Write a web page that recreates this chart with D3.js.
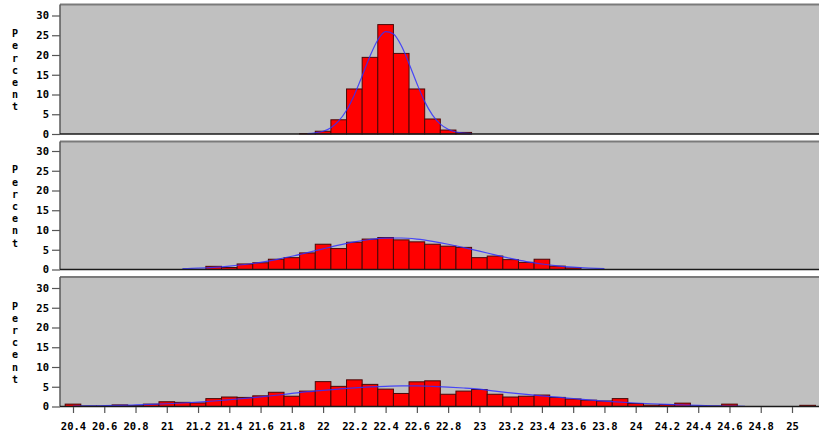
<!DOCTYPE html>
<html>
<head>
<meta charset="utf-8">
<script src="https://cdn.jsdelivr.net/npm/d3@7"></script>
<style>
  html, body { margin: 0; padding: 0; background: #ffffff; }
  svg { display: block; }
  text { font-family: "DejaVu Sans Mono", "Liberation Mono", monospace; font-weight: bold; fill: #000; }
</style>
</head>
<body>
<svg id="chart" width="819" height="439"></svg>
<script>
// Histogram bin midpoints (bin width 0.1) and percentages for each of the three panels
const binWidth = 0.1;

const panel1Bins = [21.9, 22.0, 22.1, 22.2, 22.3, 22.4, 22.5, 22.6, 22.7, 22.8, 22.9];
const panel1Pct  = [0.1, 0.7, 3.6, 11.4, 19.4, 27.7, 20.4, 11.4, 3.8, 1.0, 0.4];

const panel2Bins = [21.3, 21.4, 21.5, 21.6, 21.7, 21.8, 21.9, 22.0, 22.1, 22.2, 22.3, 22.4,
                    22.5, 22.6, 22.7, 22.8, 22.9, 23.0, 23.1, 23.2, 23.3, 23.4, 23.5, 23.6];
const panel2Pct  = [0.8, 0.5, 1.4, 1.7, 2.6, 3.0, 4.2, 6.4, 5.3, 6.9, 7.7, 8.1,
                    7.5, 7.0, 6.4, 5.9, 5.6, 3.0, 3.4, 2.5, 1.8, 2.6, 0.85, 0.4];

const panel3Bins = [20.4, 20.5, 20.6, 20.7, 20.8, 20.9, 21.0, 21.1, 21.2, 21.3, 21.4, 21.5,
                    21.6, 21.7, 21.8, 21.9, 22.0, 22.1, 22.2, 22.3, 22.4, 22.5, 22.6, 22.7,
                    22.8, 22.9, 23.0, 23.1, 23.2, 23.3, 23.4, 23.5, 23.6, 23.7, 23.8, 23.9,
                    24.0, 24.1, 24.2, 24.3, 24.4, 24.5, 24.6, 25.1];
const panel3Pct  = [0.6, 0.1, 0.1, 0.4, 0.2, 0.6, 1.2, 1.05, 0.9, 2.0, 2.4, 2.3,
                    2.7, 3.6, 2.6, 3.9, 6.3, 5.1, 6.75, 5.6, 4.4, 3.3, 6.25, 6.5,
                    3.1, 3.9, 4.3, 3.1, 2.4, 2.6, 2.9, 2.3, 1.9, 1.6, 1.4, 2.0,
                    0.75, 0.35, 0.45, 0.85, 0.1, 0.1, 0.6, 0.3];

// Fitted normal density curves (percent per bin)
const curve1X = [21.90, 21.95, 22.00, 22.05, 22.10, 22.15, 22.20, 22.25, 22.30, 22.35, 22.40,
                 22.45, 22.50, 22.55, 22.60, 22.65, 22.70, 22.75, 22.80, 22.85, 22.90, 22.95];
const curve1Y = [0.1, 0.3, 0.7, 1.6, 3.3, 6.0, 9.9, 14.7, 19.7, 23.8, 25.9,
                 25.3, 22.4, 17.8, 12.8, 8.2, 4.8, 2.5, 1.2, 0.5, 0.2, 0.07];

const curve2X = [21.1, 21.2, 21.3, 21.4, 21.5, 21.6, 21.7, 21.8, 21.9, 22.0, 22.1, 22.2, 22.3, 22.4,
                 22.5, 22.6, 22.7, 22.8, 22.9, 23.0, 23.1, 23.2, 23.3, 23.4, 23.5, 23.6, 23.7, 23.8];
const curve2Y = [0.2, 0.33, 0.54, 0.85, 1.27, 1.82, 2.52, 3.35, 4.27, 5.24, 6.17, 6.99, 7.6, 7.94,
                 7.97, 7.69, 7.13, 6.4, 5.55, 4.65, 3.7, 2.8, 2.0, 1.4, 0.92, 0.59, 0.37, 0.22];

const curve3X = [20.4, 20.5, 20.6, 20.7, 20.8, 20.9, 21.0, 21.1, 21.2, 21.3, 21.4, 21.5, 21.6, 21.7,
                 21.8, 21.9, 22.0, 22.1, 22.2, 22.3, 22.4, 22.5, 22.6, 22.7, 22.8, 22.9, 23.0, 23.1,
                 23.2, 23.3, 23.4, 23.5, 23.6, 23.7, 23.8, 23.9, 24.0, 24.1, 24.2, 24.3, 24.4, 24.5,
                 24.6, 24.7];
const curve3Y = [0.1, 0.15, 0.21, 0.29, 0.39, 0.52, 0.69, 0.89, 1.12, 1.39, 1.71, 2.05, 2.43, 2.85,
                 3.3, 3.75, 4.1, 4.42, 4.72, 4.95, 5.12, 5.2, 5.2, 5.1, 4.93, 4.69, 4.38, 3.9,
                 3.45, 3.05, 2.7, 2.35, 2.02, 1.68, 1.38, 1.12, 0.89, 0.69, 0.52, 0.39, 0.27, 0.18,
                 0.1, 0.04];

// Axis tick labels
const xTicks = [20.4, 20.6, 20.8, 21, 21.2, 21.4, 21.6, 21.8, 22, 22.2, 22.4, 22.6,
                22.8, 23, 23.2, 23.4, 23.6, 23.8, 24, 24.2, 24.4, 24.6, 24.8, 25];
const yTicks = [0, 5, 10, 15, 20, 25, 30];
const yLabel = "Percent";

const panels = [
  { bins: panel1Bins, pct: panel1Pct, cx: curve1X, cy: curve1Y, top: 4.5,   base: 134 },
  { bins: panel2Bins, pct: panel2Pct, cx: curve2X, cy: curve2Y, top: 141.5, base: 269.5 },
  { bins: panel3Bins, pct: panel3Pct, cx: curve3X, cy: curve3Y, top: 277,   base: 406.5 }
];

const svg = d3.select("#chart");
const plotLeft = 60, plotRight = 830;

const x = d3.scaleLinear().domain([20.4, 25]).range([73, 792]);

panels.forEach((p, i) => {
  const y = d3.scaleLinear().domain([0, 30]).range([p.base, p.base - 118.5]);
  const g = svg.append("g");

  // plot background
  g.append("rect")
    .attr("x", plotLeft).attr("y", p.top)
    .attr("width", plotRight - plotLeft).attr("height", p.base - p.top)
    .attr("fill", "#c0c0c0");

  // frame: top and left edges
  g.append("line")
    .attr("x1", plotLeft).attr("x2", plotRight)
    .attr("y1", p.top).attr("y2", p.top)
    .attr("stroke", "#7a7a7a").attr("stroke-width", 2);
  g.append("line")
    .attr("x1", plotLeft).attr("x2", plotLeft)
    .attr("y1", p.top).attr("y2", p.base)
    .attr("stroke", "#5a5a5a").attr("stroke-width", 1.5);

  // histogram bars
  const bars = p.bins.map((b, k) => ({ mid: b, v: p.pct[k] }));
  g.append("g").selectAll("rect").data(bars).join("rect")
    .attr("x", d => x(d.mid - binWidth / 2))
    .attr("width", d => x(d.mid + binWidth / 2) - x(d.mid - binWidth / 2))
    .attr("y", d => y(d.v))
    .attr("height", d => y(0) - y(d.v))
    .attr("fill", "#ff0000")
    .attr("stroke", "#4a0808")
    .attr("stroke-width", 1);

  // fitted normal curve
  const pts = p.cx.map((v, k) => [v, p.cy[k]]);
  g.append("path")
    .datum(pts)
    .attr("fill", "none")
    .attr("stroke", "#3030ff")
    .attr("stroke-opacity", 0.85)
    .attr("stroke-width", 1.2)
    .attr("d", d3.line().x(d => x(d[0])).y(d => y(d[1])).curve(d3.curveMonotoneX));

  // baseline
  g.append("line")
    .attr("x1", plotLeft).attr("x2", plotRight)
    .attr("y1", p.base).attr("y2", p.base)
    .attr("stroke", "#1a1a1a").attr("stroke-width", 1.5);

  // y axis ticks and labels
  const yAxis = g.append("g")
    .attr("transform", `translate(${plotLeft},0)`)
    .call(d3.axisLeft(y).tickValues(yTicks).tickSize(8).tickPadding(3).tickFormat(d3.format("d")));
  yAxis.select(".domain").remove();
  yAxis.selectAll(".tick line").attr("stroke", "#555").attr("stroke-width", 1.2);
  yAxis.selectAll(".tick text")
    .attr("font-family", "'DejaVu Sans Mono', monospace")
    .attr("font-weight", "bold")
    .attr("font-size", 10.5)
    .attr("fill", "#000");

  // vertical stacked "Percent" label
  const mid = (p.top + p.base) / 2 + 1;
  const letters = yLabel.split("");
  g.append("g").selectAll("text").data(letters).join("text")
    .attr("x", 15)
    .attr("y", (d, k) => mid + (k - (letters.length - 1) / 2) * 12.2)
    .attr("dy", "0.35em")
    .attr("text-anchor", "middle")
    .attr("font-size", 10)
    .text(d => d);
});

// shared x axis under the last panel
const xAxis = svg.append("g")
  .attr("transform", `translate(0,${panels[2].base + 0.5})`)
  .call(d3.axisBottom(x).tickValues(xTicks).tickSize(6).tickPadding(10)
    .tickFormat(d => String(Math.round(d * 10) / 10)));
xAxis.select(".domain").remove();
xAxis.selectAll(".tick line").attr("stroke", "#555").attr("stroke-width", 1.2);
xAxis.selectAll(".tick text")
  .attr("font-family", "'DejaVu Sans Mono', monospace")
  .attr("font-weight", "bold")
  .attr("font-size", 10.5)
  .attr("fill", "#000");
</script>
</body>
</html>
